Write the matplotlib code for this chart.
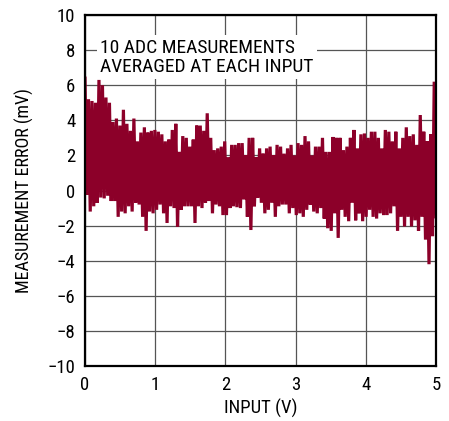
"""
Measurement error vs input voltage, 10 ADC measurements averaged at each input.
"""

import matplotlib
matplotlib.use("Agg")
import matplotlib.pyplot as plot
import numpy

# upper excursions of the error trace, read every 0.05 V (mV)
error_peaks = [
  6.4, 5.2, 5.1, 5.0, 6.3, 6.0, 5.3, 5.0, 3.9, 4.1, 3.7, 4.6, 3.8, 3.4, 4.1, 2.8, 3.3,
  3.6, 3.3, 3.4, 3.45, 3.35, 3.2, 2.8, 2.9, 3.45, 3.8, 2.2, 3.1, 3.0, 2.5, 2.9, 3.7,
  3.7, 3.4, 4.4, 3.0, 2.3, 2.4, 2.5, 2.8, 1.9, 2.6, 2.6, 2.7, 2.7, 2.0, 3.0, 3.0, 1.9,
  2.4, 2.1, 2.4, 2.5, 2.0, 2.6, 2.5, 2.1, 2.4, 2.6, 2.0, 2.7, 2.6, 3.1, 2.8, 2.0,
  2.5, 2.5, 3.0, 2.2, 2.2, 3.05, 3.0, 3.0, 2.3, 2.5, 3.0, 3.45, 2.4, 3.2, 3.25, 3.0, 3.35,
  3.35, 3.0, 2.4, 3.45, 3.35, 2.8, 3.35, 2.4, 3.0, 3.6, 3.1, 3.2, 2.6, 4.3, 3.35, 2.8, 3.2, 6.2,
]

# lower excursions of the error trace, read every 0.05 V (mV)
error_troughs = [
  -0.25, -1.2, -0.9, -0.7, -0.4, -0.45, -0.3, -0.6, -0.6, -1.5, -1.2, -1.3, -0.9, -1.2, -0.7, -0.8, -1.5,
  -2.3, -1.2, -1.3, -1.1, -0.8, -1.3, -1.85, -0.9, -1.0, -2.05, -1.1, -0.9, -0.9, -0.9, -1.85, -0.9,
  -1.0, -0.7, -0.6, -1.3, -0.8, -0.9, -1.4, -1.4, -1.0, -0.9, -0.95, -1.0, -0.5, -1.5, -2.25, -0.9, -0.4,
  -0.7, -1.3, -1.1, -0.7, -1.5, -0.9, -0.8, -0.8, -1.3, -1.0, -1.4, -1.3, -1.5, -1.1, -0.8, -1.2,
  -1.3, -1.0, -1.6, -2.15, -2.3, -1.3, -2.7, -1.1, -1.5, -1.75, -0.7, -1.7, -1.3, -1.75, -1.5, -1.1, -1.5,
  -1.6, -1.3, -1.4, -1.4, -1.3, -0.9, -2.3, -1.5, -2.05, -1.5, -2.05, -1.7, -2.3, -1.5, -2.8, -4.2, -2.6, -1.5,
]

x_ticks = [0, 1, 2, 3, 4, 5]
y_ticks = [-10, -8, -6, -4, -2, 0, 2, 4, 6, 8, 10]

plot.rcParams["font.family"] = ["Roboto Condensed", "Archivo Narrow", "Liberation Sans", "DejaVu Sans"]

# trace swings between the peaks and troughs
error = numpy.empty(len(error_peaks) * 2)
error[0::2] = error_peaks
error[1::2] = error_troughs
input_v = numpy.linspace(0, 5, len(error))

figure = plot.figure(figsize=(4.49, 4.21), dpi=100)
axes = figure.add_axes([0.1893, 0.1306, 0.7817, 0.8338])

axes.plot(input_v, error, color="#8c0029", linewidth=2.3,
          solid_joinstyle="miter", zorder=2)

axes.set_xlim(0, 5)
axes.set_ylim(-10, 10)
axes.set_xticks(x_ticks)
axes.set_yticks(y_ticks)
axes.tick_params(length=0, labelsize=13.5, pad=7)
axes.grid(True, color="#555555", linewidth=0.9, zorder=1)
axes.set_axisbelow(True)
for spine in axes.spines.values():
  spine.set_linewidth(1.6)
  spine.set_color("black")

axes.set_xlabel("INPUT (V)", fontsize=13.5, labelpad=4)
axes.set_ylabel("MEASUREMENT ERROR (mV)", fontsize=13, labelpad=10)

axes.text(0.214, 8.65, "10 ADC MEASUREMENTS\nAVERAGED AT EACH INPUT",
          fontsize=14, ha="left", va="top", linespacing=1.08,
          bbox=dict(facecolor="white", edgecolor="none", pad=2.5), zorder=3)

figure.savefig("out.png", dpi=100)
plot.close()
